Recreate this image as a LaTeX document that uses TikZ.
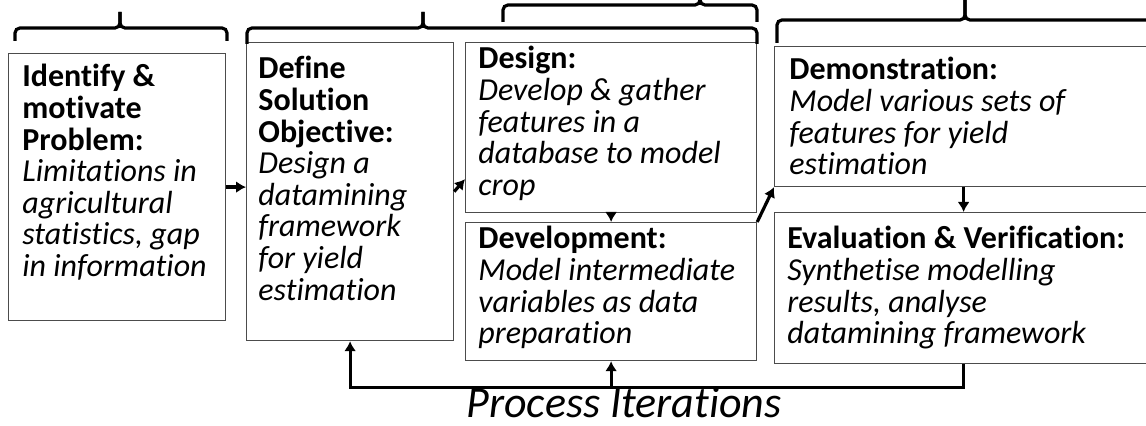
\documentclass[tikz,border=0pt]{standalone}
\usepackage{fontspec}
\setmainfont{Carlito}[Ligatures={NoCommon,NoRequired}]
\usetikzlibrary{arrows.meta}
\usetikzlibrary{calc,positioning}

\tikzset{
    stagebox/.style={draw=black!70, line width=0.6pt, anchor=north west, inner sep=0pt},
    stagetext/.style={anchor=north west, inner sep=0pt, align=left, font=\fontsize{16}{15.8}\selectfont},
    flow/.style={line width=1.6pt, -{Latex[length=5pt,width=6pt]}},
    phase/.style={line width=1.6pt, rounded corners=2.5pt},
}

\begin{document}
\begin{tikzpicture}[x=0.5pt, y=-0.5pt]
    \useasboundingbox (0,0) rectangle (1146,426);
    \clip (0,0) rectangle (1146,426);

    % stages
    \node[stagebox, minimum width=108.5pt, minimum height=133.5pt] (ident) at (8,53) {};
    \node[stagebox, minimum width=103.5pt, minimum height=149pt] (define) at (246,42) {};
    \node[stagebox, minimum width=145.5pt, minimum height=85pt] (design) at (465,42) {};
    \node[stagebox, minimum width=145.5pt, minimum height=69pt] (devel) at (465,222) {};
    \node[stagebox, minimum width=189pt, minimum height=70pt] (demo) at (774,46) {};
    \node[stagebox, minimum width=189pt, minimum height=75.5pt] (eval) at (774,212) {};

    \node[stagetext, below right=5.5pt and 7pt of ident.north west] (identtext) {\textbf{Identify \&}\\ \textbf{motivate}\\ \textbf{Problem:}\\ \textit{Limitations in}\\ \textit{agricultural}\\ \textit{statistics, gap}\\ \textit{in information}};
    \node[stagetext, below right=7pt and 6pt of define.north west] (definetext) {\textbf{Define}\\ \textbf{Solution}\\ \textbf{Objective:}\\ \textit{Design a}\\ \textit{datamining}\\ \textit{framework}\\ \textit{for yield}\\ \textit{estimation}};
    \node[stagetext, below right=2pt and 6.5pt of design.north west] (designtext) {\textbf{Design:}\\ \textit{Develop \& gather}\\ \textit{features in a}\\ \textit{database to model}\\ \textit{crop}};
    \node[stagetext, below right=2pt and 6.5pt of devel.north west] (develtext) {\textbf{Development:}\\ \textit{Model intermediate}\\ \textit{variables as data}\\ \textit{preparation}};
    \node[stagetext, below right=5.5pt and 7.5pt of demo.north west] (demotext) {\textbf{Demonstration:}\\ \textit{Model various sets of}\\ \textit{features for yield}\\ \textit{estimation}};
    \node[stagetext, below right=7pt and 6.5pt of eval.north west] (evaltext) {\textbf{Evaluation \& Verification:}\\ \textit{Synthetise modelling}\\ \textit{results, analyse}\\ \textit{datamining framework}};

    % braces over the stages
    \draw[phase] (15,41) -- (15,28) -- (120,28) -- (120,12);
    \draw[phase] (120,12) -- (120,28) -- (227,28) -- (227,41);
    \draw[phase] (247,44) -- (247,28) -- (423,28) -- (423,12);
    \draw[phase] (423,12) -- (423,28) -- (757,28) -- (757,44);
    \draw[phase] (503,22) -- (503,5) -- (700,5) -- (700,-10);
    \draw[phase] (700,-10) -- (700,5) -- (757,5) -- (757,22);
    \draw[phase] (777,43) -- (777,20) -- (965,20) -- (965,-10);
    \draw[phase] (965,-10) -- (965,20) -- (1160,20) -- (1160,43);

    % flow between stages
    \draw[flow] (ident.east) -- (ident.east -| define.west);
    \draw[flow] (define.east) -- ([yshift=17pt]design.south west);
    \draw[flow] (design.south) -- (devel.north);
    \draw[flow] (devel.north east) -- (demo.south west);
    \draw[flow] (demo.south) -- (eval.north);

    % iterations back
    \path (eval.south) ++(0,23) coordinate (back);
    \draw[flow] (eval.south) -- (back) -| (define.south);
    \draw[flow] (back -| devel.south) -- (devel.south);
    \node[inner sep=0pt, font=\fontsize{22}{26}\selectfont\itshape] (iter) at (624,403) {Process Iterations};
\end{tikzpicture}
\end{document}
